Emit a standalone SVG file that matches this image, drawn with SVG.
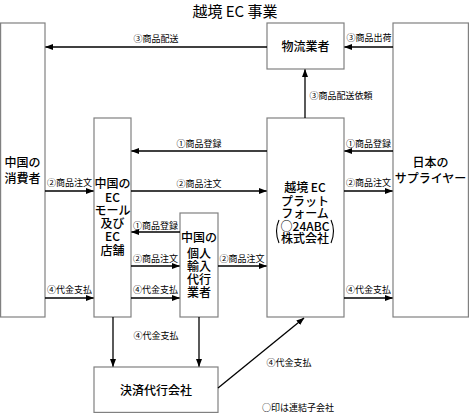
<svg xmlns="http://www.w3.org/2000/svg" width="469" height="413" viewBox="0 0 469 413">
<defs>
<marker id="ah" markerWidth="8" markerHeight="6" refX="7.5" refY="3" orient="auto" markerUnits="userSpaceOnUse">
<path d="M0,0 L8,3 L0,6 Z" fill="#000"/>
</marker>
<style>
.box{fill:#fff;stroke:#808080;stroke-width:1.2}
.bt{font-family:"Noto Sans CJK JP","Noto Sans",sans-serif;font-size:12px;font-weight:500;fill:#000;text-anchor:middle}
.lb{font-family:"Noto Sans CJK JP","Noto Sans",sans-serif;font-size:9px;fill:#000;text-anchor:middle}
.ar{stroke:#000;stroke-width:1.3;fill:none;marker-end:url(#ah)}
.ttl{font-family:"Noto Sans CJK JP","Noto Sans",sans-serif;font-size:15px;fill:#000;text-anchor:middle}
</style>
</defs>
<rect width="469" height="413" fill="#fff"/>
<text class="ttl" x="235" y="17">越境 EC 事業</text>

<g id="consumer">
<rect class="box" x="0.6" y="23" width="44.4" height="294"/>
<text class="bt" x="22.5" y="167">中国の</text>
<text class="bt" x="22.5" y="183">消費者</text>
</g>
<g id="ecmall">
<rect class="box" x="94" y="118" width="37" height="199"/>
<text class="bt" x="112.5" y="188">中国の</text>
<text class="bt" x="112.5" y="202">EC</text>
<text class="bt" x="112.5" y="215">モール</text>
<text class="bt" x="112.5" y="228">及び</text>
<text class="bt" x="112.5" y="241">EC</text>
<text class="bt" x="112.5" y="255">店舗</text>
</g>
<g id="agent">
<rect class="box" x="180" y="213" width="38" height="104"/>
<text class="bt" x="199" y="242">中国の</text>
<text class="bt" x="199" y="258">個人</text>
<text class="bt" x="199" y="271">輸入</text>
<text class="bt" x="199" y="284">代行</text>
<text class="bt" x="199" y="297">業者</text>
</g>
<g id="platform">
<rect class="box" x="267" y="118" width="77" height="199"/>
<text class="bt" x="305" y="192">越境 EC</text>
<text class="bt" x="305" y="206">プラット</text>
<text class="bt" x="305" y="218">フォーム</text>
<text class="bt" x="305" y="231">○24ABC</text>
<text class="bt" x="305" y="243">株式会社</text>
<path d="M279,220 Q274,231 279,243" stroke="#000" stroke-width="1.1" fill="none"/>
<path d="M331,220 Q336,231 331,243" stroke="#000" stroke-width="1.1" fill="none"/>
</g>
<g id="supplier">
<rect class="box" x="393" y="23" width="75.4" height="294"/>
<text class="bt" x="430.5" y="167">日本の</text>
<text class="bt" x="430.5" y="183">サプライヤー</text>
</g>
<g id="logistics">
<rect class="box" x="267" y="23" width="77" height="46"/>
<text class="bt" x="305.5" y="51">物流業者</text>
</g>
<g id="settlement">
<rect class="box" x="94" y="367" width="124" height="45.4"/>
<text class="bt" x="156" y="394.5">決済代行会社</text>
</g>

<g id="connectors">
<line class="ar" x1="267" y1="47" x2="45.5" y2="47"/>
<line class="ar" x1="393" y1="47" x2="344.5" y2="47"/>
<line class="ar" x1="305" y1="118" x2="305" y2="69.5"/>
<line class="ar" x1="267" y1="151" x2="131.5" y2="151"/>
<line class="ar" x1="131" y1="191" x2="266.5" y2="191"/>
<line class="ar" x1="393" y1="151" x2="344.5" y2="151"/>
<line class="ar" x1="344" y1="191" x2="392.5" y2="191"/>
<line class="ar" x1="45" y1="191" x2="93.5" y2="191"/>
<line class="ar" x1="180" y1="232" x2="131.5" y2="232"/>
<line class="ar" x1="131" y1="266" x2="179.5" y2="266"/>
<line class="ar" x1="218" y1="266" x2="266.5" y2="266"/>
<line class="ar" x1="45" y1="298" x2="93.5" y2="298"/>
<line class="ar" x1="131" y1="298" x2="179.5" y2="298"/>
<line class="ar" x1="344" y1="298" x2="392.5" y2="298"/>
<line class="ar" x1="113" y1="317" x2="113" y2="366.5"/>
<line class="ar" x1="199" y1="317" x2="199" y2="366.5"/>
<line class="ar" x1="218" y1="388" x2="304" y2="318"/>
</g>

<g id="labels">
<text class="lb" x="156" y="42">③商品配送</text>
<text class="lb" x="369" y="41">③商品出荷</text>
<text class="lb" x="341" y="99">③商品配送依頼</text>
<text class="lb" x="199" y="147">①商品登録</text>
<text class="lb" x="199" y="187">②商品注文</text>
<text class="lb" x="368.5" y="147">①商品登録</text>
<text class="lb" x="368.5" y="186">②商品注文</text>
<text class="lb" x="69.5" y="186">②商品注文</text>
<text class="lb" x="155.5" y="229">①商品登録</text>
<text class="lb" x="155.5" y="262">②商品注文</text>
<text class="lb" x="242" y="262">②商品注文</text>
<text class="lb" x="69.5" y="293">④代金支払</text>
<text class="lb" x="155.5" y="293">④代金支払</text>
<text class="lb" x="368.5" y="293">④代金支払</text>
<text class="lb" x="156" y="339">④代金支払</text>
<text class="lb" x="289" y="366">④代金支払</text>
<text class="lb" x="298" y="411">○印は連結子会社</text>
</g>
</svg>
